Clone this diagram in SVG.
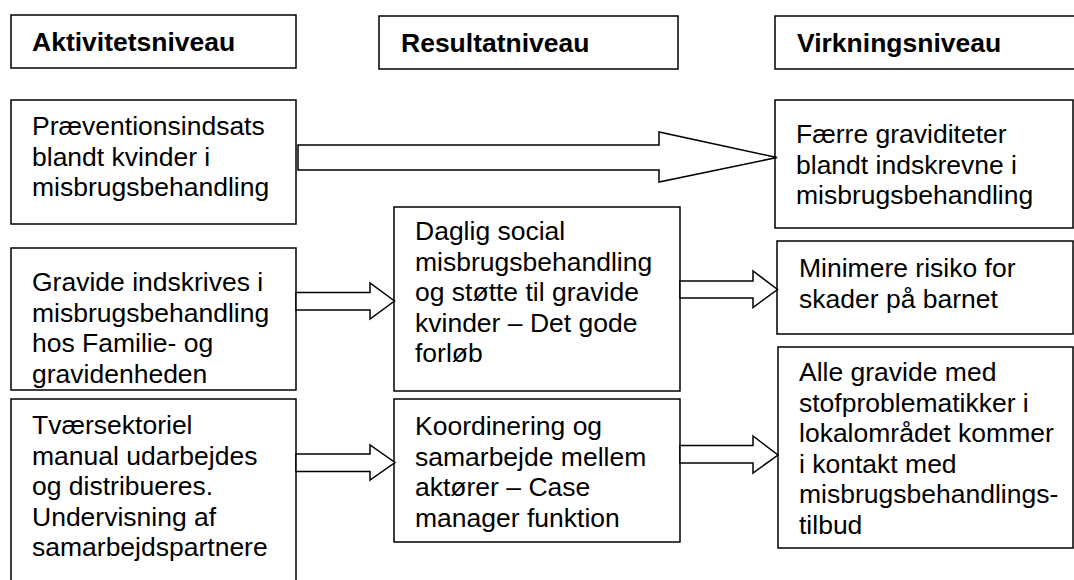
<svg xmlns="http://www.w3.org/2000/svg" width="1074" height="580" viewBox="0 0 1074 580">
  <style>
    .box { fill: #ffffff; stroke: #000000; stroke-width: 1.5; }
    .arrow { fill: #ffffff; stroke: #000000; stroke-width: 1.5; stroke-linejoin: miter; }
    .txt { font-family: "Liberation Sans", Arial, sans-serif; font-size: 26.5px; fill: #000000; }
    .head { font-weight: bold; }
  </style>
  <rect width="1074" height="580" fill="#ffffff"/>

  <!-- column headers -->
  <g id="header-aktivitet">
    <rect class="box" x="11" y="15" width="285" height="53"/>
    <text class="txt head" x="32" y="51">Aktivitetsniveau</text>
  </g>
  <g id="header-resultat">
    <rect class="box" x="379" y="16" width="299" height="53"/>
    <text class="txt head" x="401" y="52">Resultatniveau</text>
  </g>
  <g id="header-virkning">
    <rect class="box" x="775" y="16" width="302" height="53"/>
    <text class="txt head" x="797" y="52">Virkningsniveau</text>
  </g>

  <!-- activity level -->
  <g id="a1">
    <rect class="box" x="11" y="100" width="285" height="124"/>
    <text class="txt" x="32" y="135">
      <tspan x="32">Præventionsindsats</tspan>
      <tspan x="32" dy="30.6">blandt kvinder i</tspan>
      <tspan x="32" dy="30.6">misbrugsbehandling</tspan>
    </text>
  </g>
  <g id="a2">
    <rect class="box" x="11" y="248" width="285" height="142"/>
    <text class="txt" x="32" y="291">
      <tspan x="32">Gravide indskrives i</tspan>
      <tspan x="32" dy="30.6">misbrugsbehandling</tspan>
      <tspan x="32" dy="30.6">hos Familie- og</tspan>
      <tspan x="32" dy="30.6">gravidenheden</tspan>
    </text>
  </g>
  <g id="a3">
    <rect class="box" x="11" y="399" width="285" height="200"/>
    <text class="txt" x="32" y="434">
      <tspan x="32">Tværsektoriel</tspan>
      <tspan x="32" dy="30.6">manual udarbejdes</tspan>
      <tspan x="32" dy="30.6">og distribueres.</tspan>
      <tspan x="32" dy="30.6">Undervisning af</tspan>
      <tspan x="32" dy="30.6">samarbejdspartnere</tspan>
    </text>
  </g>

  <!-- result level -->
  <g id="r1">
    <rect class="box" x="394" y="207" width="286" height="184"/>
    <text class="txt" x="415" y="240">
      <tspan x="415">Daglig social</tspan>
      <tspan x="415" dy="30.6">misbrugsbehandling</tspan>
      <tspan x="415" dy="30.6">og støtte til gravide</tspan>
      <tspan x="415" dy="30.6">kvinder – Det gode</tspan>
      <tspan x="415" dy="30.6">forløb</tspan>
    </text>
  </g>
  <g id="r2">
    <rect class="box" x="394" y="399" width="286" height="143"/>
    <text class="txt" x="415" y="435">
      <tspan x="415">Koordinering og</tspan>
      <tspan x="415" dy="30.6">samarbejde mellem</tspan>
      <tspan x="415" dy="30.6">aktører – Case</tspan>
      <tspan x="415" dy="30.6">manager funktion</tspan>
    </text>
  </g>

  <!-- impact level -->
  <g id="v1">
    <rect class="box" x="775" y="100" width="298" height="128"/>
    <text class="txt" x="796" y="143">
      <tspan x="796">Færre graviditeter</tspan>
      <tspan x="796" dy="30.6">blandt indskrevne i</tspan>
      <tspan x="796" dy="30.6">misbrugsbehandling</tspan>
    </text>
  </g>
  <g id="v2">
    <rect class="box" x="777" y="241" width="296" height="93"/>
    <text class="txt" x="799" y="277">
      <tspan x="799">Minimere risiko for</tspan>
      <tspan x="799" dy="30.6">skader på barnet</tspan>
    </text>
  </g>
  <g id="v3">
    <rect class="box" x="778" y="347" width="295" height="201"/>
    <text class="txt" x="799" y="381">
      <tspan x="799">Alle gravide med</tspan>
      <tspan x="799" dy="30.6">stofproblematikker i</tspan>
      <tspan x="799" dy="30.6">lokalområdet kommer</tspan>
      <tspan x="799" dy="30.6">i kontakt med</tspan>
      <tspan x="799" dy="30.6">misbrugsbehandlings-</tspan>
      <tspan x="799" dy="30.6">tilbud</tspan>
    </text>
  </g>

  <!-- block arrows between levels -->
  <g id="connectors">
    <polygon class="arrow" points="298,145 659,145 659,132 777,157.5 659,182 659,170 298,170"/>
    <polygon class="arrow" points="296,292.5 370,292.5 370,283 394.5,301 370,319 370,310 296,310"/>
    <polygon class="arrow" points="680,281 753,281 753,271 777.5,289.5 753,307.5 753,298 680,298"/>
    <polygon class="arrow" points="296,454 370,454 370,445 395,462.5 370,480 370,471.5 296,471.5"/>
    <polygon class="arrow" points="680,445.5 753,445.5 753,436 778,455 753,473 753,463 680,463"/>
  </g>
</svg>
